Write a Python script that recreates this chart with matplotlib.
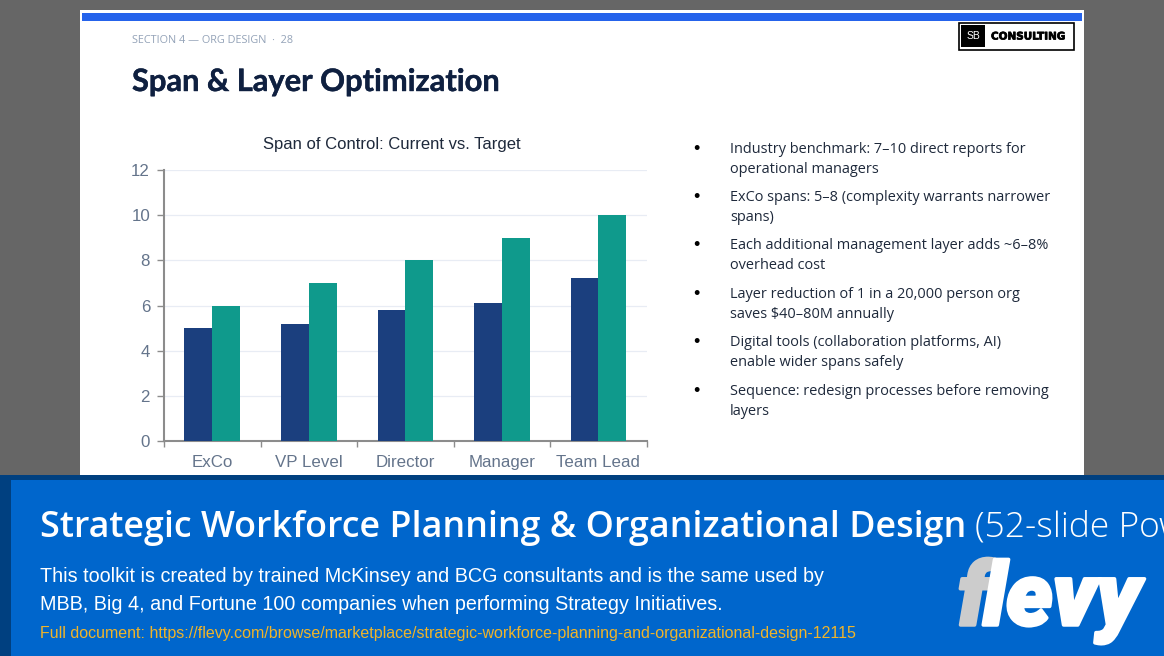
import matplotlib
matplotlib.use("Agg")
import matplotlib.pyplot as plt
from matplotlib.patches import Rectangle
import matplotlib.patheffects as pe
import numpy as np

W, H = 1164, 656
categories = ["ExCo", "VP Level", "Director", "Manager", "Team Lead"]
current = [5.0, 5.2, 5.8, 6.1, 7.2]
target = [6, 7, 8, 9, 10]
y_ticks = [0, 2, 4, 6, 8, 10, 12]
bullets = [
    ("Industry benchmark: 7–10 direct reports for", "operational managers"),
    ("ExCo spans: 5–8 (complexity warrants narrower", "spans)"),
    ("Each additional management layer adds ~6–8%", "overhead cost"),
    ("Layer reduction of 1 in a 20,000 person org", "saves \\$40–80M annually"),
    ("Digital tools (collaboration platforms, AI)", "enable wider spans safely"),
    ("Sequence: redesign processes before removing", "layers"),
]
bullet_baselines = [153, 201, 249, 298, 346, 395]

fig = plt.figure(figsize=(W / 100, H / 100), dpi=100, facecolor="#666666")
bg = fig.add_axes([0, 0, 1, 1], zorder=0)
bg.set_xlim(0, W); bg.set_ylim(H, 0); bg.axis("off")
top = fig.add_axes([0, 0, 1, 1], zorder=3)
top.set_xlim(0, W); top.set_ylim(H, 0); top.axis("off"); top.patch.set_alpha(0)

def rect(ax, x0, y0, x1, y1, **kw):
    kw.setdefault("linewidth", 0)
    ax.add_patch(Rectangle((x0, y0), x1 - x0, y1 - y0, **kw))

rect(bg, 80, 10, 1084, 480, facecolor="white")
rect(bg, 82, 13, 1082, 21, facecolor="#2563EB")

bg.text(132, 43, "SECTION 4 — ORG DESIGN  ·  28", fontsize=7.8, color="#94A3B8", family="Open Sans", va="baseline")
bg.text(132, 91, "Span & Layer Optimization", fontsize=22.2, fontweight="bold", color="#0F2040", family="Lato", va="baseline",
        path_effects=[pe.withStroke(linewidth=0.3, foreground="#0F2040")])

# logo
rect(bg, 958.5, 22.5, 1073.5, 49.5, facecolor="white", edgecolor="black", linewidth=1.2)
rect(bg, 961, 25, 985, 47, facecolor="black")
bg.text(973, 36, "SB", fontsize=7.5, color="white", family="Liberation Sans", ha="center", va="center")
bg.text(991, 39.5, "CONSULTING", fontsize=7.5, fontweight="bold", color="black", family="DejaVu Sans", va="baseline",
        path_effects=[pe.withStroke(linewidth=0.5, foreground="black")])

# chart
ax = fig.add_axes([164 / W, 1 - 441 / H, (646.6 - 164) / W, (441 - 170) / H], zorder=1)
x = np.arange(len(categories))
bw = 0.288
ax.bar(x - bw / 2, current, bw, color="#1B3F7E", zorder=3)
ax.bar(x + bw / 2, target, bw, color="#0F9A8C", zorder=3)
ax.set_xlim(-0.5, 4.5); ax.set_ylim(0, 12)
ax.set_yticks(y_ticks)
ax.set_xticks(np.arange(-0.5, 5, 1)); ax.set_xticklabels([])
ax.set_xticks(x, minor=True); ax.set_xticklabels(categories, minor=True)
ax.tick_params(axis="x", which="minor", length=0, pad=18.7, labelsize=12.2, labelcolor="#64748B")
ax.tick_params(axis="x", which="major", length=4, color="#8C8C8C", width=1)
ax.tick_params(axis="y", length=5, color="#8C8C8C", width=1, pad=5, labelsize=12.2, labelcolor="#64748B")
for lab in ax.get_xticklabels(minor=True):
    lab.set_family("Liberation Sans"); lab.set_verticalalignment("baseline")
for lab in ax.get_yticklabels():
    lab.set_family("Liberation Sans")
ax.grid(axis="y", color="#E8ECF4", linewidth=0.9, zorder=0)
for s in ("top", "right"):
    ax.spines[s].set_visible(False)
for s in ("left", "bottom"):
    ax.spines[s].set_color("#8C8C8C"); ax.spines[s].set_linewidth(1.5)
bg.text(392, 149, "Span of Control: Current vs. Target", fontsize=12.0, color="#1E293B", family="Liberation Sans", ha="center", va="baseline")

# bullets
for (l1, l2), b in zip(bullets, bullet_baselines):
    bg.text(693, b + 1, "•", fontsize=13, color="black", family="Liberation Sans", va="baseline")
    bg.text(730, b, l1, fontsize=10.45, color="#1E293B", family="Open Sans", va="baseline")
    bg.text(730, b + 20, l2, fontsize=10.45, color="#1E293B", family="Open Sans", va="baseline")

# banner
rect(top, 0, 475, W, H, facecolor="#004080")
rect(top, 11, 480, W, H, facecolor="#0066CC")
top.text(40, 537, "Strategic Workforce Planning & Organizational Design", fontsize=25.8, fontweight="semibold", color="white", family="Open Sans", va="baseline")
top.text(975, 537, "(52-slide PowerPoint presentation)", fontsize=25.5, color="white", family="Open Sans", fontweight="light", va="baseline")
top.text(40, 582, "This toolkit is created by trained McKinsey and BCG consultants and is the same used by", fontsize=14.2, color="white", family="Liberation Sans", va="baseline")
top.text(40, 610, "MBB, Big 4, and Fortune 100 companies when performing Strategy Initiatives.", fontsize=14.2, color="white", family="Liberation Sans", va="baseline")
top.text(40, 638, "Full document: https://flevy.com/browse/marketplace/strategic-workforce-planning-and-organizational-design-12115", fontsize=11.5, color="#F0B429", family="Liberation Sans", va="baseline")
stroke = lambda c: [pe.withStroke(linewidth=2.5, foreground=c)]
top.text(958, 625, "f", fontsize=63, fontweight=900, style="italic", color="#CCCCCC", family="Roboto", va="baseline", path_effects=stroke("#CCCCCC"))
top.text(983, 625, "levy", fontsize=63, fontweight=900, style="italic", color="white", family="Roboto", va="baseline", path_effects=stroke("white"))

fig.savefig("out.png", dpi=100, facecolor=fig.get_facecolor())
